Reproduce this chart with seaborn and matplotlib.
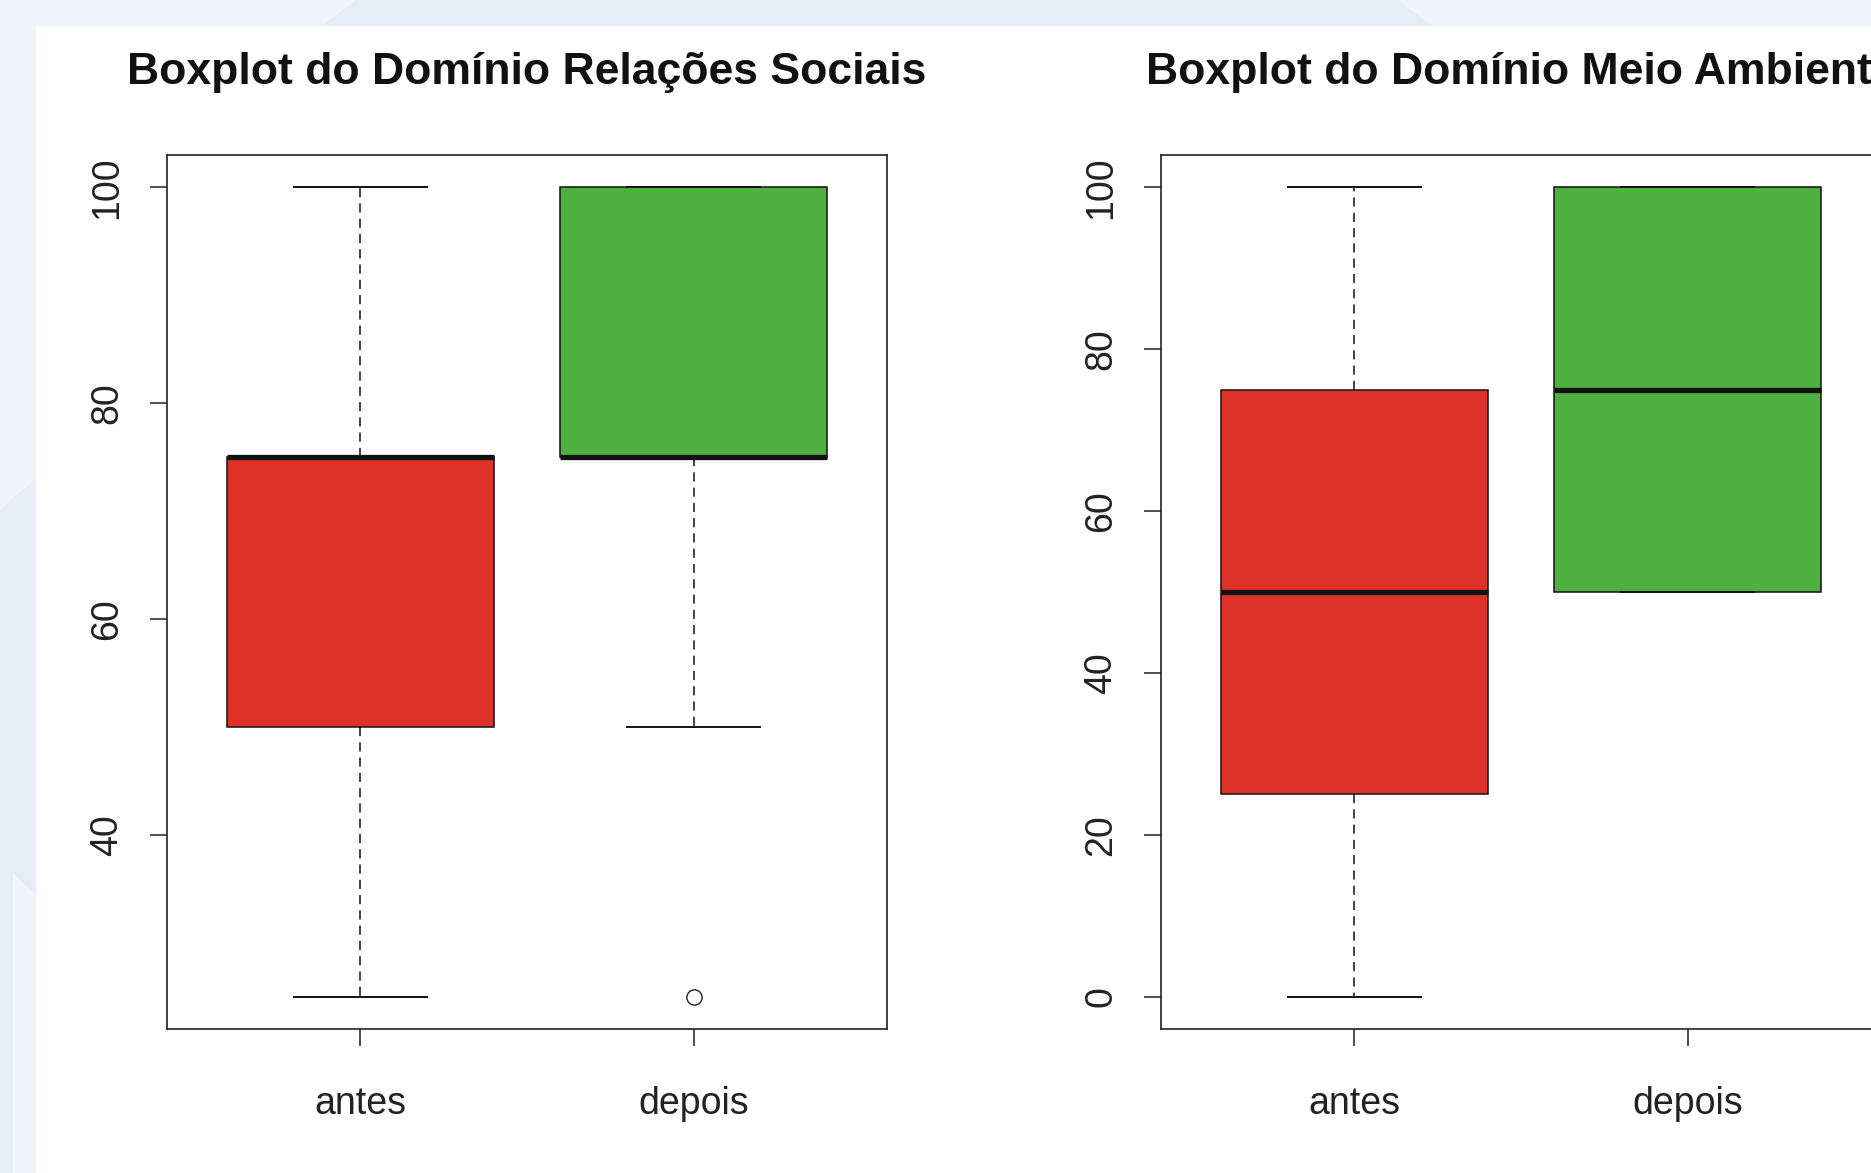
import pandas as pd
import matplotlib.pyplot as plt
import seaborn as sns
from matplotlib.patches import Polygon, Rectangle

plt.rcParams["font.family"] = ["Liberation Sans", "DejaVu Sans"]

W, H = 1871, 1173

groups = ["antes", "depois"]
box_colors = ["#DE3229", "#4FB041"]

# scores per group, chosen so quartiles / whiskers / outlier match the boxes
social_antes = [25, 50, 50, 75, 75, 75, 100]
social_depois = [25, 50, 75, 75, 75, 75, 100, 100, 100]
ambiente_antes = [0, 25, 25, 50, 75, 75, 100]
ambiente_depois = [50, 50, 75, 100, 100]

titles = ["Boxplot do Domínio Relações Sociais", "Boxplot do Domínio Meio Ambiente"]
yticks_social = [40, 60, 80, 100]
yticks_ambiente = [0, 20, 40, 60, 80, 100]


def long_df(antes, depois):
    return pd.DataFrame({
        "momento": ["antes"] * len(antes) + ["depois"] * len(depois),
        "escore": antes + depois,
    })


panels = [
    (long_df(social_antes, social_depois), titles[0], yticks_social, (22, 103)),
    (long_df(ambiente_antes, ambiente_depois), titles[1], yticks_ambiente, (-4, 104)),
]

fig = plt.figure(figsize=(W / 100, H / 100), dpi=100, facecolor="#F1F5FB")

# page background decoration (screenshot frame)
fig.patches.append(Polygon([(356 / W, 1), (1398 / W, 1), (1432 / W, 1 - 26 / H), (322 / W, 1 - 26 / H)],
                           closed=True, transform=fig.transFigure, facecolor="#E6EDF7",
                           edgecolor="none", zorder=-3))
fig.patches.append(Polygon([(0, 1 - 510 / H), (36 / W, 1 - 478 / H), (36 / W, 1 - 895 / H),
                            (13 / W, 1 - 873 / H), (13 / W, 0), (0, 0)],
                           closed=True, transform=fig.transFigure, facecolor="#E6EDF7",
                           edgecolor="none", zorder=-3))
fig.patches.append(Rectangle((36 / W, 0), 1 - 36 / W, 1 - 26 / H, transform=fig.transFigure,
                             facecolor="white", edgecolor="none", zorder=-2))

lefts = [167, 1161]
for (df, title, yticks, ylim), left in zip(panels, lefts):
    ax = fig.add_axes([left / W, 1 - 1029 / H, 720 / W, 874 / H])
    sns.boxplot(
        data=df, x="momento", y="escore", hue="momento",
        order=groups, hue_order=groups, palette=box_colors,
        saturation=1, legend=False, width=0.8, whis=1.5,
        linecolor="#111111", linewidth=1.1, fliersize=11,
        medianprops={"linewidth": 3.8, "color": "#111111"},
        whiskerprops={"linestyle": (0, (6, 4)), "linewidth": 1.1},
        capprops={"linewidth": 1.4},
        flierprops={"marker": "o", "markerfacecolor": "none",
                    "markeredgecolor": "#222222", "markeredgewidth": 1.0},
        ax=ax,
    )
    ax.set_xlim(-0.58, 1.58)
    ax.set_ylim(*ylim)
    ax.set_yticks(yticks)
    ax.set_xlabel("")
    ax.set_ylabel("")
    for s in ax.spines.values():
        s.set_color("#222222")
        s.set_linewidth(1.2)
    ax.tick_params(axis="both", length=12, width=1.1, color="#222222",
                   labelsize=27, labelcolor="#222222")
    ax.tick_params(axis="y", pad=18, labelrotation=90)
    ax.tick_params(axis="x", pad=29)
    plt.setp(ax.get_yticklabels(), va="center")
    ax.set_title(title, fontsize=32, fontweight="bold", pad=51, color="#111111")

fig.savefig("out.png", dpi=100, facecolor=fig.get_facecolor())
